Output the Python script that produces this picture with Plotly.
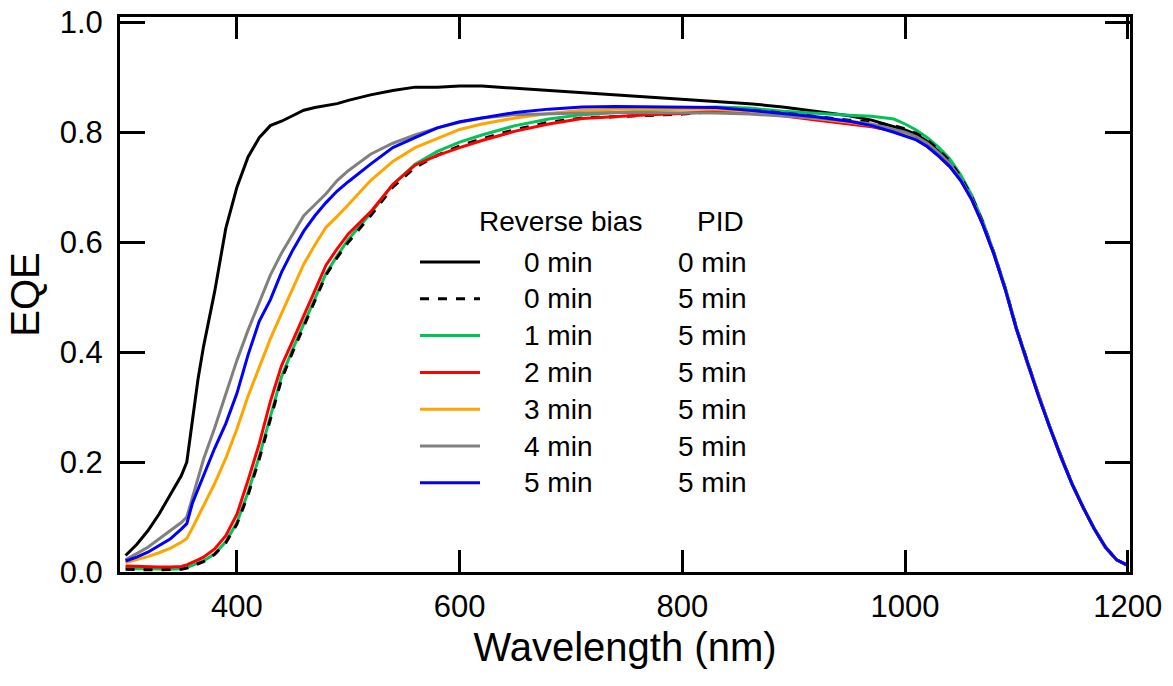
import plotly.graph_objects as go

# ---------------- data ----------------
wavelength = [300, 310, 320, 330, 340, 350, 355, 360, 365, 370,
              380, 390, 400, 410, 420, 430, 440, 450, 460, 470, 480, 490, 500,
              520, 540, 560, 580, 600,
              620,
              650, 680, 710, 740, 770, 800, 830, 860, 890, 920, 950,
              970, 990,
              1000, 1010, 1020, 1030, 1040, 1050, 1060, 1070, 1080, 1090, 1100,
              1110, 1120, 1130, 1140, 1150, 1160, 1170, 1180, 1190, 1200]

eqe_rb0_pid0 = [0.030, 0.050, 0.075, 0.105, 0.140, 0.175, 0.200, 0.280, 0.350, 0.410,
                0.510, 0.625, 0.700, 0.755, 0.790, 0.812, 0.820, 0.830, 0.840, 0.845, 0.848, 0.852, 0.858,
                0.868, 0.876, 0.882, 0.882, 0.884,
                0.884,
                0.880, 0.876, 0.873, 0.869, 0.865, 0.861, 0.856, 0.852, 0.846, 0.838, 0.830,
                0.822, 0.810,
                0.804, 0.796, 0.783, 0.765, 0.745, 0.716, 0.680, 0.633, 0.578, 0.515, 0.443,
                0.380, 0.320, 0.263, 0.210, 0.160, 0.117, 0.078, 0.045, 0.022, 0.012]

eqe_rb0_pid5 = [0.005, 0.004, 0.004, 0.004, 0.004, 0.005, 0.007, 0.011, 0.015, 0.019,
                0.032, 0.053, 0.087, 0.140, 0.205, 0.280, 0.350, 0.400, 0.447, 0.494, 0.540, 0.572, 0.600,
                0.648, 0.700, 0.736, 0.758, 0.775,
                0.788,
                0.805, 0.818, 0.826, 0.828, 0.830, 0.833, 0.838, 0.840, 0.835, 0.828, 0.822,
                0.818, 0.812,
                0.806, 0.798, 0.786, 0.768, 0.748, 0.719, 0.682, 0.635, 0.579, 0.516, 0.444,
                0.380, 0.320, 0.263, 0.210, 0.160, 0.117, 0.078, 0.045, 0.022, 0.012]

eqe_rb1_pid5 = [0.008, 0.006, 0.006, 0.005, 0.005, 0.006, 0.008, 0.012, 0.016, 0.020,
                0.033, 0.055, 0.090, 0.145, 0.210, 0.285, 0.355, 0.405, 0.450, 0.497, 0.543, 0.575, 0.605,
                0.652, 0.705, 0.742, 0.765, 0.782,
                0.795,
                0.812, 0.824, 0.832, 0.836, 0.840, 0.843, 0.846, 0.844, 0.838, 0.834, 0.831,
                0.829, 0.824,
                0.815, 0.804, 0.790, 0.773, 0.752, 0.722, 0.685, 0.637, 0.580, 0.517, 0.444,
                0.381, 0.321, 0.264, 0.210, 0.161, 0.118, 0.079, 0.046, 0.022, 0.012]

eqe_rb2_pid5 = [0.011, 0.010, 0.010, 0.009, 0.009, 0.010, 0.013, 0.017, 0.022, 0.027,
                0.042, 0.066, 0.105, 0.167, 0.233, 0.310, 0.375, 0.420, 0.465, 0.510, 0.558, 0.588, 0.615,
                0.655, 0.705, 0.740, 0.758, 0.772,
                0.785,
                0.802, 0.815, 0.825, 0.829, 0.832, 0.834, 0.838, 0.836, 0.830, 0.822, 0.815,
                0.810, 0.802,
                0.796, 0.787, 0.774, 0.757, 0.738, 0.712, 0.677, 0.631, 0.577, 0.514, 0.442,
                0.379, 0.319, 0.263, 0.209, 0.160, 0.117, 0.078, 0.045, 0.022, 0.012]

eqe_rb3_pid5 = [0.017, 0.022, 0.028, 0.035, 0.043, 0.054, 0.061, 0.080, 0.100, 0.122,
                0.161, 0.207, 0.260, 0.320, 0.372, 0.424, 0.470, 0.515, 0.560, 0.595, 0.627, 0.647, 0.668,
                0.712, 0.747, 0.772, 0.788, 0.805,
                0.815,
                0.826, 0.834, 0.840, 0.842, 0.842, 0.842, 0.842, 0.838, 0.832, 0.825, 0.818,
                0.812, 0.802,
                0.796, 0.788, 0.775, 0.758, 0.739, 0.713, 0.678, 0.632, 0.577, 0.514, 0.442,
                0.379, 0.319, 0.263, 0.209, 0.160, 0.117, 0.078, 0.045, 0.022, 0.012]

eqe_rb4_pid5 = [0.022, 0.033, 0.045, 0.060, 0.075, 0.090, 0.100, 0.135, 0.170, 0.205,
                0.262, 0.325, 0.385, 0.440, 0.490, 0.540, 0.580, 0.615, 0.648, 0.668, 0.688, 0.712, 0.730,
                0.760, 0.780, 0.795, 0.808, 0.818,
                0.826,
                0.832, 0.834, 0.835, 0.836, 0.836, 0.836, 0.835, 0.833, 0.830, 0.826, 0.820,
                0.815, 0.805,
                0.800, 0.792, 0.780, 0.763, 0.743, 0.715, 0.679, 0.632, 0.578, 0.515, 0.443,
                0.380, 0.320, 0.264, 0.210, 0.160, 0.117, 0.078, 0.045, 0.022, 0.012]

eqe_rb5_pid5 = [0.020, 0.027, 0.036, 0.048, 0.060, 0.078, 0.088, 0.125, 0.150, 0.175,
                0.225, 0.270, 0.325, 0.395, 0.456, 0.495, 0.545, 0.585, 0.620, 0.648, 0.672, 0.693, 0.710,
                0.742, 0.772, 0.790, 0.808, 0.819,
                0.826,
                0.836, 0.842, 0.846, 0.847, 0.846, 0.846, 0.845, 0.840, 0.834, 0.828, 0.820,
                0.812, 0.800,
                0.793, 0.786, 0.774, 0.757, 0.738, 0.712, 0.677, 0.631, 0.577, 0.514, 0.442,
                0.379, 0.319, 0.263, 0.209, 0.160, 0.117, 0.078, 0.045, 0.022, 0.012]

reverse_bias_labels = ["0 min", "0 min", "1 min", "2 min", "3 min", "4 min", "5 min"]
pid_labels = ["0 min", "5 min", "5 min", "5 min", "5 min", "5 min", "5 min"]
x_tick_values = [400, 600, 800, 1000, 1200]
y_tick_values = [0.0, 0.2, 0.4, 0.6, 0.8, 1.0]

# ---------------- styling ----------------
series_values = [eqe_rb0_pid0, eqe_rb0_pid5, eqe_rb1_pid5, eqe_rb2_pid5,
                 eqe_rb3_pid5, eqe_rb4_pid5, eqe_rb5_pid5]
colors = ["#000000", "#000000", "#00c35a", "#ff0000", "#ffa500", "#808080", "#0000ff"]
dashes = ["solid", "dash", "solid", "solid", "solid", "solid", "solid"]
draw_order = [0, 2, 1, 3, 4, 5, 6]

FONT = "Arial, Liberation Sans, sans-serif"
fig = go.Figure()
for i in draw_order:
    fig.add_trace(go.Scatter(
        x=wavelength, y=series_values[i], mode="lines",
        line=dict(color=colors[i], width=3, dash=dashes[i]),
        name=f"{reverse_bias_labels[i]} / {pid_labels[i]}",
        showlegend=False,
    ))

# the page body margin is removed (post_script), so figure pixels == screen pixels
W, H = 1173, 686
L, R, T, B = 120, 43, 17, 114
pw, ph = W - L - R, H - T - B


def px(xscreen):
    return (xscreen - L) / pw


def py(yscreen):
    return (H - B - yscreen) / ph


shapes = []
annotations = []
row_y0, row_step = 262, 36.8
LEG_FONT = dict(family=FONT, size=28, color="black")
annotations.append(dict(text="Reverse bias", x=px(560), y=py(221), xref="paper", yref="paper",
                        showarrow=False, xanchor="center", yanchor="middle", font=LEG_FONT))
annotations.append(dict(text="PID", x=px(720), y=py(221), xref="paper", yref="paper",
                        showarrow=False, xanchor="center", yanchor="middle", font=LEG_FONT))
for k in range(len(reverse_bias_labels)):
    yy = row_y0 + k * row_step
    shapes.append(dict(type="line", xref="paper", yref="paper",
                       x0=px(420), x1=px(480), y0=py(yy), y1=py(yy),
                       line=dict(color=colors[k], width=3,
                                 dash="dash" if dashes[k] == "dash" else "solid")))
    annotations.append(dict(text=reverse_bias_labels[k], x=px(558), y=py(yy), xref="paper", yref="paper",
                            showarrow=False, xanchor="center", yanchor="middle", font=LEG_FONT))
    annotations.append(dict(text=pid_labels[k], x=px(712), y=py(yy), xref="paper", yref="paper",
                            showarrow=False, xanchor="center", yanchor="middle", font=LEG_FONT))

axis_common = dict(showline=True, linewidth=3, linecolor="black", mirror="ticks",
                   ticks="inside", tickwidth=3, tickcolor="black",
                   showgrid=False, zeroline=False, automargin=False,
                   ticklabeloverflow="allow",
                   tickfont=dict(family=FONT, size=31, color="black"))

fig.update_layout(
    width=W, height=H,
    margin=dict(l=L, r=R, t=T, b=B),
    paper_bgcolor="white", plot_bgcolor="white",
    shapes=shapes, annotations=annotations,
    xaxis=dict(range=[295, 1202], tickvals=x_tick_values, ticklen=22,
               title=dict(text="Wavelength (nm)", font=dict(family=FONT, size=40, color="black"),
                          standoff=10),
               ticklabelstandoff=5,
               **axis_common),
    yaxis=dict(range=[0, 1.0096], tickvals=y_tick_values, tickformat=".1f", ticklen=25,
               title=dict(text="EQE", font=dict(family=FONT, size=40, color="black"), standoff=8),
               ticklabelstandoff=8,
               **axis_common),
)

fig.write_html("out.html",
               config={"displayModeBar": False},
               post_script="document.body.style.margin='0px';document.body.style.overflow='hidden';")
